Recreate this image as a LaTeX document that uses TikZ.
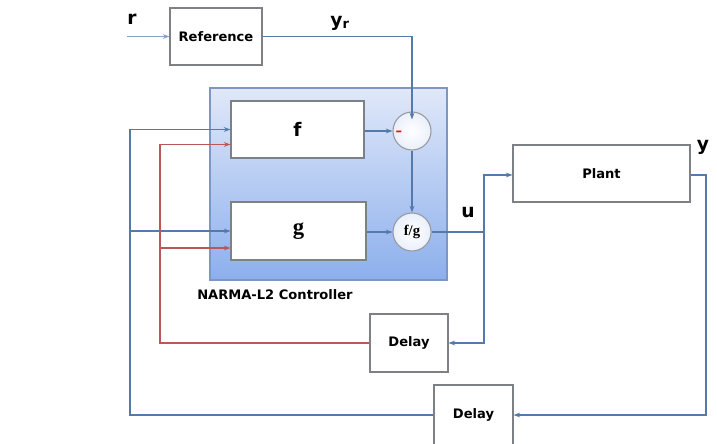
\documentclass[tikz,border=0pt]{standalone}
\usepackage{fontspec}
\setmainfont{DejaVu Sans}
\newfontfamily\serifbf{Liberation Serif}
\usetikzlibrary{positioning,arrows.meta,calc}
\definecolor{sigblue}{RGB}{84,122,172}
\definecolor{sigred}{RGB}{186,88,88}
\definecolor{boxgray}{RGB}{125,128,132}
\definecolor{ctrltop}{RGB}{224,232,249}
\definecolor{ctrlbot}{RGB}{140,175,236}
\definecolor{ctrledge}{RGB}{125,150,195}

\begin{document}
\begin{tikzpicture}[
  x=0.75pt, y=-0.75pt,
  font=\bfseries\fontsize{9.8}{11}\selectfont,
  >={Stealth[length=5pt,width=3.6pt]},
  blkbox/.style={draw=boxgray, line width=0.8pt, fill=white, inner sep=0pt},
  ctrlbox/.style={draw=ctrledge, line width=0.8pt, top color=ctrltop, bottom color=ctrlbot},
  sumnode/.style={circle, draw=boxgray!80, line width=0.8pt, inner color=white, outer color=ctrltop!70, minimum size=28.5pt, inner sep=0pt},
  sigline/.style={draw=sigblue, line width=1pt},
  fbline/.style={draw=sigred, line width=1pt},
  lbl/.style={font=\bfseries\fontsize{14}{16}\selectfont, inner sep=0pt}
]
  \useasboundingbox (0,0) rectangle (717,443);

  % controller block
  \node[ctrlbox, minimum width=177.75pt, minimum height=144pt] (ctrl) at (328.5,184) {};
  \node[anchor=north west, inner sep=0pt] (ctrllab) at (197,289) {NARMA-L2 Controller};
  \node[blkbox, minimum width=99.75pt, minimum height=42.75pt, font=\bfseries\fontsize{14}{16}\selectfont] (fnet) at (297.5,129.5) {f};
  \node[blkbox, minimum width=101.25pt, minimum height=43.5pt, font=\serifbf\bfseries\fontsize{17}{19}\selectfont] (gnet) at (298.5,231) {g};
  \node[sumnode] (sum) at (412,131) {};
  \node[text=red, inner sep=0pt] (minus) at (399,133) {--};
  \node[sumnode, font=\serifbf\bfseries\fontsize{11}{13}\selectfont] (div) at (412,232) {f/g};

  % other blocks
  \node[blkbox, minimum width=69pt, minimum height=42.75pt] (ref) at (216,36.5) {Reference};
  \node[blkbox, minimum width=132.75pt, minimum height=42.75pt] (plant) at (601.5,173.5) {Plant};
  \node[blkbox, minimum width=58.5pt, minimum height=43.5pt] (dly1) at (409,343) {Delay};
  \node[blkbox, minimum width=59.25pt, minimum height=45pt] (dly2) at (473.5,415) {Delay};

  % signal labels
  \node[lbl] (rlab) at (132,19) {r};
  \node[lbl] (yrlab) at (340,23) {y\textsubscript{r}};
  \node[lbl] (ulab) at (468,213) {u};
  \node[lbl] (ylab) at (703,147) {y};

  % corner points
  \coordinate (rin) at (127,36.5);
  \coordinate (uj) at (484,232);
  \coordinate (yc) at (706,415);
  \coordinate (bl) at (130,415);
  \coordinate (bj) at (130,231);
  \coordinate (rl) at (160,343);
  \coordinate (rj) at (160,248);

  % forward path
  \draw[sigline, ->, draw=sigblue!70] (rin) -- (ref.west);
  \draw[sigline, ->] (ref.east) -| ($(sum.north)+(0,8)$);
  \draw[sigline, ->] (fnet.east |- sum.west) -- (sum.west);
  \draw[sigline, ->] (sum.south) -- (div.north);
  \draw[sigline, ->] (gnet.east |- div.west) -- (div.west);
  \draw[sigline] (div.east) -- (uj);
  \draw[sigline, ->] (uj) |- ($(plant.west)+(0,1.5)$);
  \draw[sigline, ->] (uj) |- (dly1.east);

  % output feedback
  \draw[sigline, ->] ($(plant.east)+(0,1.5)$) -| (yc) -- (dly2.east);
  \draw[sigline, ->] (dly2.west) -- (bl) |- (fnet.west);
  \draw[sigline, ->] (bj) -- (gnet.west);

  % control feedback
  \draw[fbline, ->] (dly1.west) -- (rl) |- ($(fnet.west)+(0,15)$);
  \draw[fbline, ->] (rj) -- ($(gnet.west)+(0,17)$);
\end{tikzpicture}
\end{document}
